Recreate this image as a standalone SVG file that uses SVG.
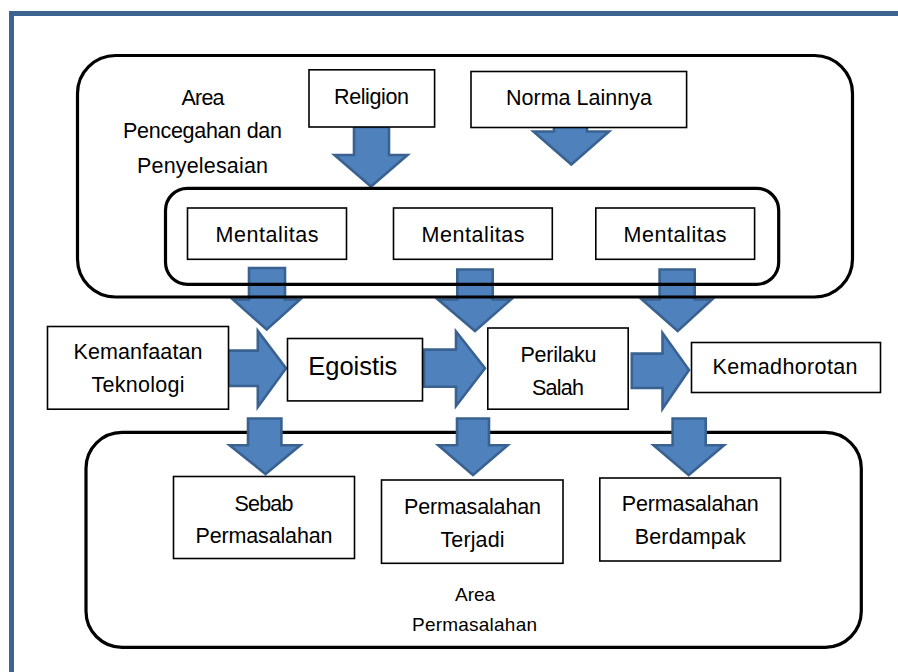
<svg xmlns="http://www.w3.org/2000/svg" width="898" height="672" viewBox="0 0 898 672">
<style>
.frame{fill:none;stroke:#3d6391;stroke-width:5}
.cont{fill:none;stroke:#000;stroke-width:3.2}
.box{fill:#fff;stroke:#000;stroke-width:1.6}
.arr{fill:#4f81bd;stroke:#3a6290;stroke-width:2.6;stroke-linejoin:miter}
text{font-family:"Liberation Sans",Arial,sans-serif;font-size:21.5px;fill:#000;text-anchor:middle}
.big{font-size:25.5px}
.small{font-size:19px}
</style>
<rect class="frame" x="11.5" y="13.5" width="900" height="700"/>
<rect id="area-permasalahan" class="cont" x="86" y="432.3" width="775.3" height="215" rx="36"/>
<g id="connectors">
<polygon class="arr" points="554,100 587,100 587,131.5 609,131.5 571.3,164.5 533.5,131.5 554,131.5"/>
<polygon class="arr" points="354,127 389,127 389,155 407.5,155 371,186.5 334.5,155 354,155"/>
<polygon class="arr" points="249,268 285,268 285,299.5 300,299.5 266.7,329.5 233,299.5 249,299.5"/>
<polygon class="arr" points="457.3,269.5 492.7,269.5 492.7,299.5 511,299.5 475,331 438,299.5 457.3,299.5"/>
<polygon class="arr" points="659.6,269.5 694.7,269.5 694.7,299.5 712,299.5 677.7,331 642,299.5 659.6,299.5"/>
<polygon class="arr" points="228,350.6 257.8,350.6 257.8,331 286,368.3 257.8,407 257.8,386 228,386"/>
<polygon class="arr" points="424,349.6 456,349.6 456,331.5 485,368.3 456,406 456,386.7 424,386.7"/>
<polygon class="arr" points="631.8,353.6 662.5,353.6 662.5,333 689,370 662.5,408.7 662.5,388 631.8,388"/>
<polygon class="arr" points="248,418.5 281.4,418.5 281.4,445.2 300.3,445.2 265.5,474 229.6,445.2 248,445.2"/>
<polygon class="arr" points="457,418.5 489,418.5 489,445.2 507.7,445.2 473,475 438.3,445.2 457,445.2"/>
<polygon class="arr" points="672.6,418.5 705.7,418.5 705.7,445.2 724,445.2 688.7,475 653.6,445.2 672.6,445.2"/>
</g>
<rect id="area-pencegahan" class="cont" x="77.5" y="55.5" width="775" height="241.5" rx="38"/>
<rect id="mentalitas-group" class="cont" x="165.5" y="188.3" width="613.2" height="96" rx="22"/>
<g id="label-area-pencegahan">
<text x="203" y="105" textLength="43">Area</text>
<text x="202.5" y="138" textLength="159">Pencegahan dan</text>
<text x="202.5" y="172.5" textLength="131">Penyelesaian</text>
</g>
<g id="religion"><rect class="box" x="309" y="69.8" width="125.6" height="57.2"/><text x="371.5" y="103.5" textLength="75">Religion</text></g>
<g id="norma-lainnya"><rect class="box" x="471" y="71.5" width="215.6" height="56"/><text x="579" y="105" textLength="146">Norma Lainnya</text></g>
<g id="mentalitas-1"><rect class="box" x="187.5" y="208" width="159" height="51.3"/><text x="267" y="242" textLength="103">Mentalitas</text></g>
<g id="mentalitas-2"><rect class="box" x="393.5" y="208" width="158.8" height="51.3"/><text x="473" y="242" textLength="103">Mentalitas</text></g>
<g id="mentalitas-3"><rect class="box" x="595.8" y="208" width="158.8" height="51.3"/><text x="675" y="242" textLength="103">Mentalitas</text></g>
<g id="kemanfaatan-teknologi"><rect class="box" x="47.5" y="326.5" width="181" height="82.7"/><text x="138" y="359" textLength="129">Kemanfaatan</text><text x="138" y="392" textLength="93">Teknologi</text></g>
<g id="egoistis"><rect class="box" x="287.5" y="338.5" width="135" height="62.4"/><text class="big" x="352.8" y="375" textLength="89">Egoistis</text></g>
<g id="perilaku-salah"><rect class="box" x="487.8" y="328" width="140.4" height="81.2"/><text x="558.5" y="361.7" textLength="76">Perilaku</text><text x="558" y="395" textLength="52">Salah</text></g>
<g id="kemadhorotan"><rect class="box" x="691.5" y="342.5" width="189" height="50"/><text x="785" y="374.3" textLength="145">Kemadhorotan</text></g>
<g id="sebab-permasalahan"><rect class="box" x="173.5" y="476.5" width="181" height="82"/><text x="264" y="510.7" textLength="59">Sebab</text><text x="264" y="543.3" textLength="137">Permasalahan</text></g>
<g id="permasalahan-terjadi"><rect class="box" x="381.5" y="480" width="181.5" height="83.3"/><text x="472.5" y="514.3" textLength="137">Permasalahan</text><text x="472.5" y="547.3" textLength="64">Terjadi</text></g>
<g id="permasalahan-berdampak"><rect class="box" x="599.8" y="478" width="180.7" height="83"/><text x="690.3" y="511" textLength="137">Permasalahan</text><text x="690.3" y="544.3" textLength="111">Berdampak</text></g>
<g id="label-area-permasalahan">
<text class="small" x="475" y="601" textLength="40">Area</text>
<text class="small" x="474.5" y="630.7" textLength="125">Permasalahan</text>
</g>
</svg>
